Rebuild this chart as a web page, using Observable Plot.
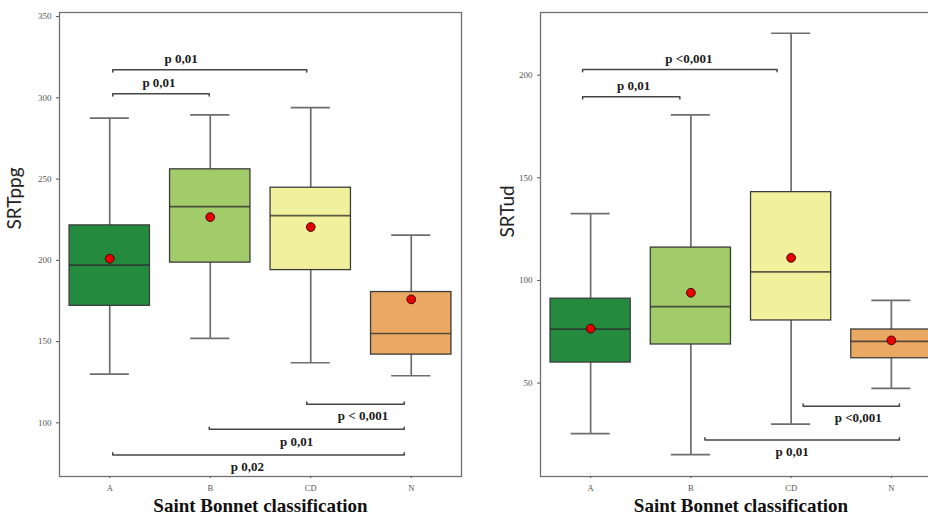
<!DOCTYPE html>
<html><head><meta charset="utf-8">
<script src="https://cdn.jsdelivr.net/npm/d3@7"></script>
<script src="https://cdn.jsdelivr.net/npm/@observablehq/plot@0.6"></script>
<style>
html,body{margin:0;padding:0;background:#fff;overflow:hidden;width:928px;height:516px}
#wrap{position:relative;width:928px;height:516px;overflow:hidden}
#left{position:absolute;left:0;top:0;width:470px}
#right{position:absolute;left:470px;top:0;width:480px}
#left svg,#right svg{max-width:none !important;display:block}
</style></head><body><div id="wrap"><div id="left"></div><div id="right"></div></div>
<script>
const categories = ["A", "B", "CD", "N"];
const boxColors = ["#238a3e", "#a2cb69", "#f1f19d", "#e9a963"];
const xTitle = "Saint Bonnet classification";

// Left panel: SRTppg
const ppgLow = [130, 152, 137, 129];
const ppgQ1 = [172, 198.6, 194, 142];
const ppgMedian = [197, 233, 227.5, 155];
const ppgQ3 = [221.5, 256, 244.7, 180.5];
const ppgHigh = [287.5, 289.5, 294, 215.5];
const ppgMean = [201, 226.6, 220.5, 176];
const ppgTicks = [100, 150, 200, 250, 300, 350];
const ppgBracketStart = [0.03, 0.03, 1.96, 0.99, 0.03];
const ppgBracketEnd = [1.96, 0.99, 2.93, 2.93, 2.93];
const ppgBracketLevel = [317.3, 302.5, 111.5, 96, 80.2];
const ppgBracketSide = ["top", "top", "bottom", "bottom", "bottom"];
const ppgBracketLabel = ["p 0,01", "p 0,01", "p < 0,001", "p 0,01", "p 0,02"];
const ppgLabelPos = [0.71, 0.49, 2.52, 1.86, 1.37];

// Right panel: SRTud
const udLow = [25.4, 15.2, 30, 47.4];
const udQ1 = [60, 68.8, 80.5, 62.1];
const udMedian = [76.3, 87.2, 104.2, 70.3];
const udQ3 = [91.1, 116, 143, 76.1];
const udHigh = [132.5, 180.6, 220.4, 90.3];
const udMean = [76.5, 94, 111, 70.8];
const udTicks = [50, 100, 150, 200];
const udBracketStart = [-0.08, -0.08, 2.12, 1.14];
const udBracketEnd = [1.86, 0.89, 3.08, 3.08];
const udBracketLevel = [202.7, 189.5, 38.7, 22.3];
const udBracketSide = ["top", "top", "bottom", "bottom"];
const udBracketLabel = ["p <0,001", "p 0,01", "p <0,001", "p 0,01"];
const udLabelPos = [0.98, 0.43, 2.67, 2.01];

function panel(cfg) {
  const rows = categories.map((c, i) => ({
    i, cat: c, color: boxColors[i],
    low: cfg.low[i], q1: cfg.q1[i], median: cfg.median[i],
    q3: cfg.q3[i], high: cfg.high[i], mean: cfg.mean[i]
  }));
  const H = 516, mt = 12, mb = 40;
  const pxPerUnit = (H - mt - mb) / (cfg.yDomain[1] - cfg.yDomain[0]);
  const hook = 2.2 / pxPerUnit;
  const brackets = cfg.bStart.map((s, k) => ({
    k, s, e: cfg.bEnd[k], level: cfg.bLevel[k], side: cfg.bSide[k],
    label: cfg.bLabel[k], pos: cfg.bPos[k]
  }));
  const pts = [];
  for (const b of brackets) {
    const dir = b.side === "top" ? -1 : 1;
    pts.push({k: b.k, x: b.s, y: b.level + dir * hook});
    pts.push({k: b.k, x: b.s, y: b.level});
    pts.push({k: b.k, x: b.e, y: b.level});
    pts.push({k: b.k, x: b.e, y: b.level + dir * hook});
  }
  const BOX = 0.4, CAP = 0.195;
  return Plot.plot({
    width: cfg.width, height: H,
    marginLeft: cfg.ml, marginRight: 9, marginTop: mt, marginBottom: mb,
    x: {domain: [-0.5, 3.5]},
    y: {domain: cfg.yDomain},
    color: {type: "identity"},
    style: {background: "#fff", maxWidth: "none"},
    marks: [
      Plot.ruleX(rows, {x: "i", y1: "low", y2: "high", stroke: "#6e6e6e", strokeWidth: 1.7}),
      Plot.ruleY(rows, {x1: d => d.i - CAP, x2: d => d.i + CAP, y: "low", stroke: "#6e6e6e", strokeWidth: 1.7}),
      Plot.ruleY(rows, {x1: d => d.i - CAP, x2: d => d.i + CAP, y: "high", stroke: "#6e6e6e", strokeWidth: 1.7}),
      Plot.rect(rows, {x1: d => d.i - BOX, x2: d => d.i + BOX, y1: "q1", y2: "q3", fill: "color", stroke: "#3c3c3c", strokeWidth: 1.3}),
      Plot.ruleY(rows, {x1: d => d.i - BOX, x2: d => d.i + BOX, y: "median", stroke: "#2a2a2a", strokeOpacity: 0.75, strokeWidth: 1.7}),
      Plot.dot(rows, {x: "i", y: "mean", r: 4.4, fill: "#e60000", stroke: "#3a0000", strokeWidth: 0.9}),
      Plot.line(pts, {x: "x", y: "y", z: "k", stroke: "#444", strokeWidth: 1.5}),
      Plot.text(brackets.filter(b => b.side === "top"), {x: "pos", y: "level", text: "label", dy: -11, fontSize: 13, fontWeight: "bold", fontFamily: "Liberation Serif", fill: "#1a1a1a"}),
      Plot.text(brackets.filter(b => b.side === "bottom"), {x: "pos", y: "level", text: "label", dy: 12, fontSize: 13, fontWeight: "bold", fontFamily: "Liberation Serif", fill: "#1a1a1a"}),
      Plot.frame({stroke: "#707070", strokeWidth: 1.3}),
      Plot.axisY({ticks: cfg.ticks, tickSize: 3, tickPadding: 5, fontSize: 9, fontFamily: "Liberation Serif", color: "#555", label: null}),
      Plot.axisX({ticks: [0, 1, 2, 3], tickFormat: i => categories[i], tickSize: 2, tickPadding: 6, fontSize: 8.5, fontFamily: "Liberation Serif", color: "#555", label: null}),
      Plot.text([cfg.yLabel], {frameAnchor: "left", rotate: -90, dx: cfg.yLabelDx, dy: cfg.yLabelDy, lineAnchor: "middle", fontSize: 19, fontFamily: "Lato", fill: "#222"}),
      Plot.text([xTitle], {frameAnchor: "bottom", dy: 29, lineAnchor: "middle", fontSize: 19, fontWeight: "bold", fontFamily: "Liberation Serif", fill: "#111"})
    ]
  });
}

document.getElementById("left").append(panel({
  width: 470, ml: 59, yDomain: [67, 352.5], ticks: ppgTicks, yLabel: "SRTppg",
  yLabelDx: -45, yLabelDy: -15,
  low: ppgLow, q1: ppgQ1, median: ppgMedian, q3: ppgQ3, high: ppgHigh, mean: ppgMean,
  bStart: ppgBracketStart, bEnd: ppgBracketEnd, bLevel: ppgBracketLevel,
  bSide: ppgBracketSide, bLabel: ppgBracketLabel, bPos: ppgLabelPos
}));
document.getElementById("right").append(panel({
  width: 480, ml: 70, yDomain: [4.5, 230.5], ticks: udTicks, yLabel: "SRTud",
  yLabelDx: -33, yLabelDy: -7,
  low: udLow, q1: udQ1, median: udMedian, q3: udQ3, high: udHigh, mean: udMean,
  bStart: udBracketStart, bEnd: udBracketEnd, bLevel: udBracketLevel,
  bSide: udBracketSide, bLabel: udBracketLabel, bPos: udLabelPos
}));
</script></body></html>
